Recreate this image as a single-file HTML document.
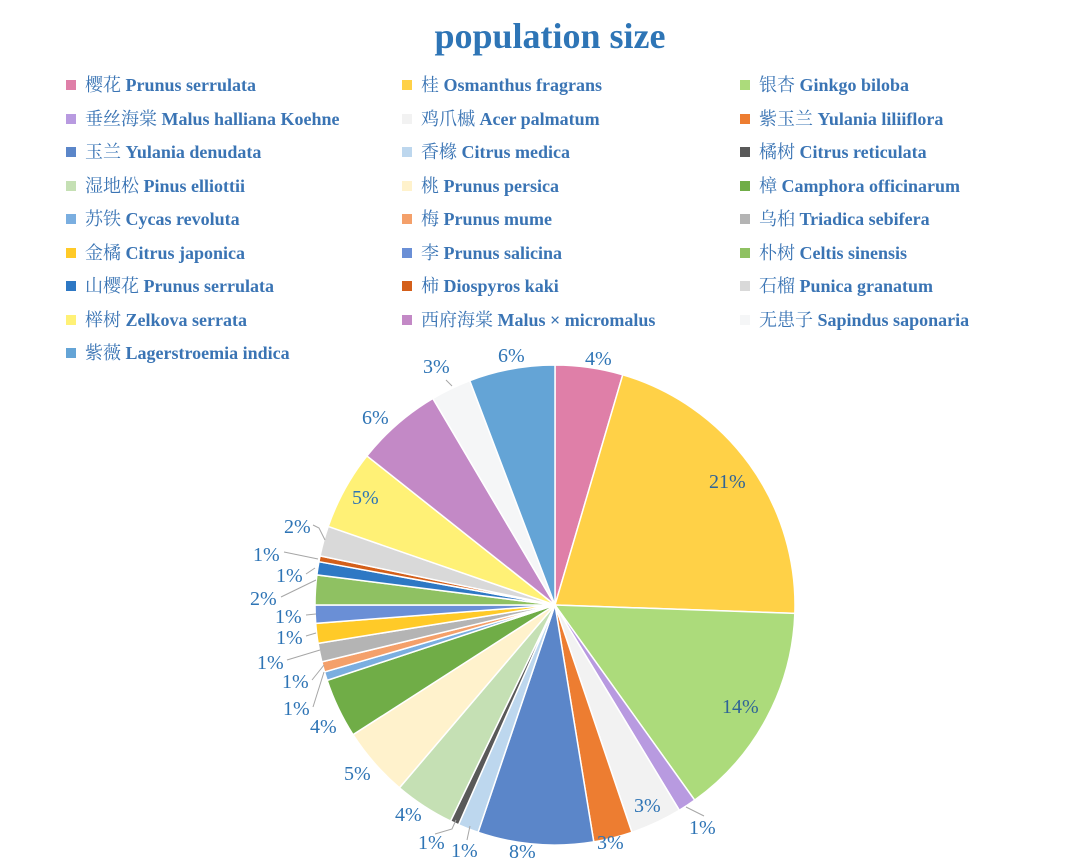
<!DOCTYPE html>
<html><head><meta charset="utf-8"><style>
body{margin:0;background:#fff;}
.wrap{position:relative;width:1080px;height:868px;overflow:hidden;background:#fff;}
.title{position:absolute;left:0;width:1100px;top:15px;text-align:center;font:bold 36px "Liberation Serif","Noto Serif CJK SC",serif;color:#2e75b6;}
.lg{position:absolute;font:bold 18px "Liberation Serif","Noto Serif CJK SC",serif;color:#3a74b4;white-space:nowrap;line-height:20px;}
.lg i{position:absolute;left:-19px;top:5px;width:10px;height:10px;}
svg{position:absolute;left:0;top:0;}
svg text{font-family:"Liberation Serif",serif;font-size:20px;fill:#2e74b5;}
</style></head><body><div class="wrap">
<div class="title">population size</div>
<div id="legend"></div>
<svg width="1080" height="868" id="s">
<g id="slices"></g>
<g stroke="#a6a6a6" stroke-width="1" fill="none">
<polyline points="313,525 319,528 325,540"/>
<polyline points="284,552 318,559"/>
<polyline points="306,574 315,568"/>
<polyline points="281,597 316,580"/>
<polyline points="306,615 316,614"/>
<polyline points="306,636 316,633"/>
<polyline points="287,660 320,650"/>
<polyline points="312,680 324,665"/>
<polyline points="313,707 324,672"/>
<polyline points="435,834 452,829 456,820"/>
<polyline points="467,840 470,826"/>
<polyline points="704,816 686,807"/>
<polyline points="446,380 452,386"/>
</g>
<text x="585" y="365">4%</text>
<text x="498" y="362">6%</text>
<text x="423" y="373">3%</text>
<text x="362" y="424">6%</text>
<text x="352" y="504">5%</text>
<text x="284" y="533">2%</text>
<text x="253" y="561">1%</text>
<text x="276" y="582">1%</text>
<text x="250" y="605">2%</text>
<text x="275" y="623">1%</text>
<text x="276" y="644">1%</text>
<text x="257" y="669">1%</text>
<text x="282" y="688">1%</text>
<text x="283" y="715">1%</text>
<text x="310" y="733">4%</text>
<text x="344" y="780">5%</text>
<text x="395" y="821">4%</text>
<text x="418" y="849">1%</text>
<text x="451" y="857">1%</text>
<text x="509" y="858">8%</text>
<text x="597" y="849">3%</text>
<text x="634" y="812">3%</text>
<text x="689" y="834">1%</text>
<text x="722" y="713" style="fill:#2f6497">14%</text>
<text x="709" y="488" style="fill:#2f6497">21%</text>
</svg>
</div>
<script>
var items=[
["樱花","Prunus serrulata","#df7fa8"],["桂","Osmanthus fragrans","#ffd147"],["银杏","Ginkgo biloba","#acdb7b"],
["垂丝海棠","Malus halliana Koehne","#b89ae0"],["鸡爪槭","Acer palmatum","#f2f2f2"],["紫玉兰","Yulania liliiflora","#ed7d31"],
["玉兰","Yulania denudata","#5b86c9"],["香橼","Citrus medica","#bdd7ee"],["橘树","Citrus reticulata","#595959"],
["湿地松","Pinus elliottii","#c5e0b4"],["桃","Prunus persica","#fff2cc"],["樟","Camphora officinarum","#70ad47"],
["苏铁","Cycas revoluta","#7aaee0"],["梅","Prunus mume","#f4a06a"],["乌桕","Triadica sebifera","#b4b4b4"],
["金橘","Citrus japonica","#ffca28"],["李","Prunus salicina","#6a8fd6"],["朴树","Celtis sinensis","#8fc162"],
["山樱花","Prunus serrulata","#2e78c4"],["柿","Diospyros kaki","#d45f1a"],["石榴","Punica granatum","#d9d9d9"],
["榉树","Zelkova serrata","#fff176"],["西府海棠","Malus × micromalus","#c389c6"],["无患子","Sapindus saponaria","#f5f6f7"],
["紫薇","Lagerstroemia indica","#64a4d6"]];
var html="",xs=[85,421,759];
items.forEach(function(it,i){var r=Math.floor(i/3),c=i%3;
html+='<div class="lg" style="left:'+xs[c]+'px;top:'+(75+r*33.5)+'px"><i style="background:'+it[2]+'"></i><span style="font-weight:normal">'+it[0]+'</span> '+it[1]+'</div>';});
document.getElementById("legend").innerHTML=html;
var ends=[16.4,92,144.4,148.8,161.3,170.7,198.7,203.7,205.8,220.4,237.3,251.7,253.8,256.3,260.8,265.6,270,277.2,280.4,281.8,289.1,308.4,329.4,339.2,360];
var cx=555,cy=605,R=240,s="",a0=0;
function pt(a){var r=a*Math.PI/180;return (cx+R*Math.sin(r)).toFixed(2)+","+(cy-R*Math.cos(r)).toFixed(2);}
ends.forEach(function(a1,i){var col=items[i][2];var large=(a1-a0)>180?1:0;
s+='<path d="M'+cx+','+cy+' L'+pt(a0)+' A'+R+','+R+' 0 '+large+' 1 '+pt(a1)+' Z" fill="'+col+'" stroke="#fff" stroke-width="1.5"/>';a0=a1;});
document.getElementById("slices").innerHTML=s;
</script>
</body></html>
